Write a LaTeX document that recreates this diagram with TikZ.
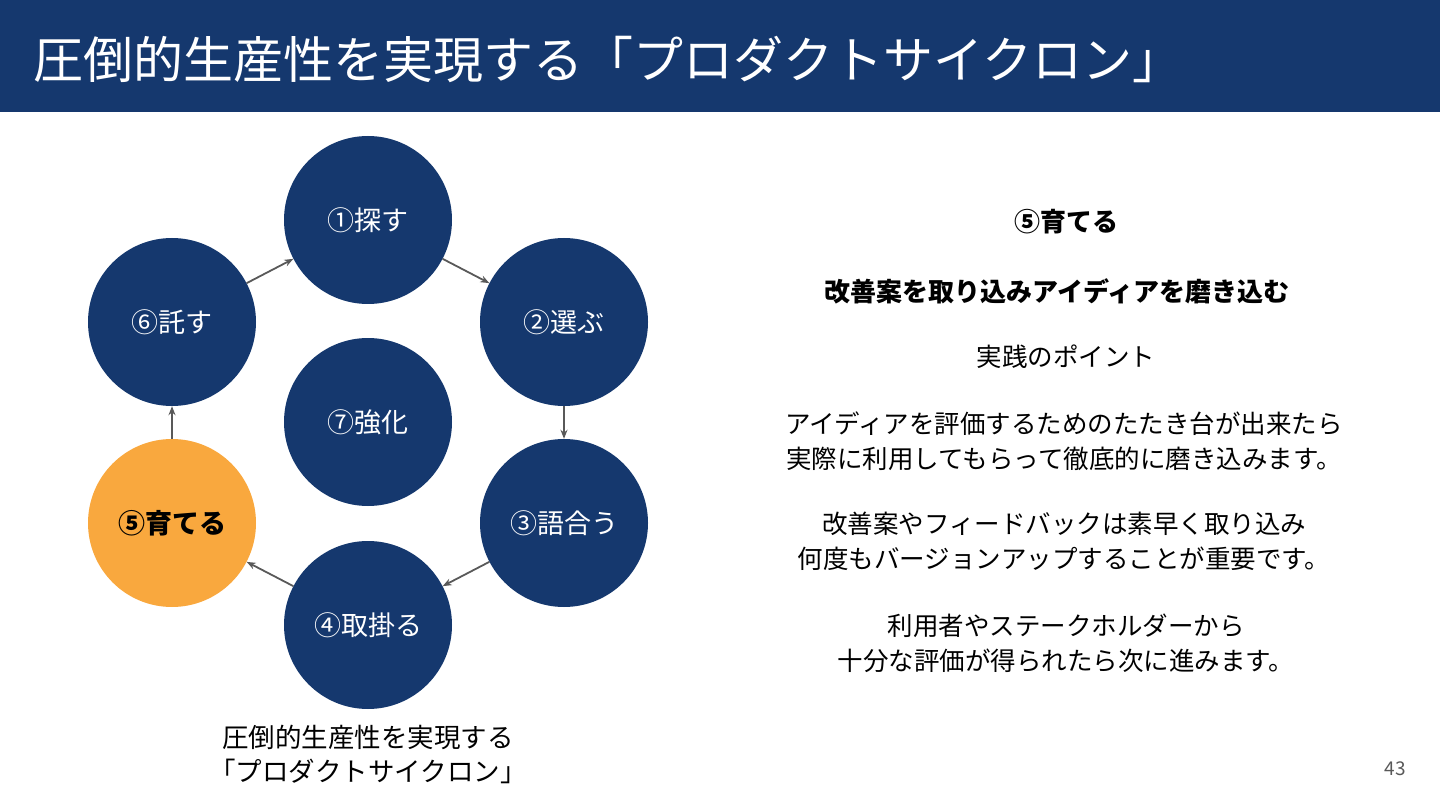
\documentclass[tikz,border=0pt]{standalone}
\usepackage{fontspec}
\setmainfont{Noto Sans CJK JP}
\usepackage{xcolor}
\usetikzlibrary{arrows.meta,positioning}
\definecolor{cycNavy}{HTML}{15386E}
\definecolor{cycOrange}{HTML}{F9A83E}
\definecolor{cycGray}{HTML}{595959}

\begin{document}
\begin{tikzpicture}[x=1pt,y=-1pt,
  stage/.style={circle,fill=cycNavy,minimum size=168pt,inner sep=0pt,
    text=white,font=\fontsize{27}{32}\selectfont},
  flow/.style={cycGray,line width=1.8pt,-{Stealth[length=9pt,width=7pt]}},
  body/.style={align=center,font=\fontsize{25.5}{35}\selectfont}]
\useasboundingbox (0,0) rectangle (1440,810);
% --- title bar ---
\fill[cycNavy] (0,0) rectangle (1440,112);
\node[anchor=west,text=white,font=\fontsize{50}{56}\selectfont] (title) at (30,60)
  {圧倒的生産性を実現する「プロダクトサイクロン」};
% --- cycle ---
\node[stage] (s1) at (368,220) {①探す};
\node[stage] (s2) at (564,322) {②選ぶ};
\node[stage] (s3) at (564,523) {③語合う};
\node[stage] (s4) at (368,625) {④取掛る};
\node[stage,fill=cycOrange,text=black,font=\fontsize{27}{32}\selectfont\bfseries] (s5) at (172,523) {⑤育てる};
\node[stage] (s6) at (172,322) {⑥託す};
\node[stage] (s7) at (368,422) {⑦強化};
\draw[flow] (s1) -- (s2);
\draw[flow] (s2) -- (s3);
\draw[flow] (s3) -- (s4);
\draw[flow] (s4) -- (s5);
\draw[flow] (s5) -- (s6);
\draw[flow] (s6) -- (s1);
\node[body,font=\fontsize{26.5}{34}\selectfont] (caption) at (368,754)
  {圧倒的生産性を実現する\\「プロダクトサイクロン」};
% --- explanation ---
\node[body,font=\fontsize{26}{35}\selectfont\bfseries] (head) at (1066,222) {⑤育てる};
\node[body,font=\fontsize{26}{35}\selectfont\bfseries] (sub) at (1057,291) {改善案を取り込みアイディアを磨き込む};
\node[body] (point) at (1066,357) {実践のポイント};
\node[body] (p1) at (1064,441.5) {アイディアを評価するためのたたき台が出来たら\\実際に利用してもらって徹底的に磨き込みます。};
\node[body] (p2) at (1064,541) {改善案やフィードバックは素早く取り込み\\何度もバージョンアップすることが重要です。};
\node[body] (p3) at (1066,643.5) {利用者やステークホルダーから\\十分な評価が得られたら次に進みます。};
\node[text=cycGray,font=\fontsize{19}{22}\selectfont] (page) at (1395,769) {43};
\end{tikzpicture}
\end{document}
